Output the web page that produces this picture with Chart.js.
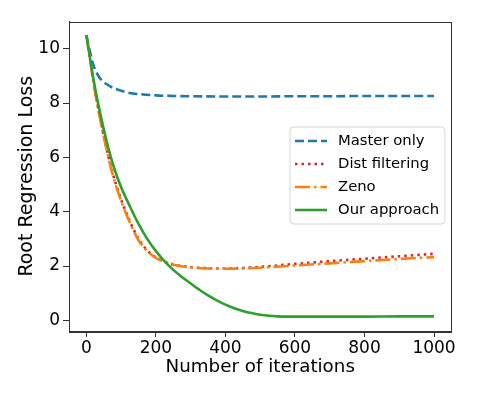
<!DOCTYPE html>
<html>
<head>
<meta charset="utf-8">
<script src="https://cdn.jsdelivr.net/npm/chart.js@4"></script>
<style>
  html, body { margin: 0; padding: 0; background: #fff; }
  #wrap { width: 478px; height: 399px; position: relative; }
</style>
</head>
<body>
<div id="wrap"><canvas id="c" width="478" height="399"></canvas></div>
<script>
// ---- data ----
const seriesLabels = ["Master only", "Dist filtering", "Zeno", "Our approach"];

const masterX = [0, 10, 20, 30, 40, 60, 80, 100, 125, 150, 200, 250, 300, 400, 500, 600, 700, 800, 900, 1000];
const masterY = [10.5, 9.9, 9.4, 9.1, 8.9, 8.68, 8.54, 8.45, 8.37, 8.33, 8.28, 8.26, 8.25, 8.24, 8.24, 8.25, 8.25, 8.26, 8.26, 8.26];

const distX = [0, 25, 50, 75, 100, 125, 150, 175, 200, 225, 250, 300, 350, 400, 450, 500, 600, 700, 800, 900, 1000];
const distY = [10.5, 8.45, 6.8, 5.45, 4.45, 3.65, 3.0, 2.58, 2.32, 2.16, 2.06, 1.96, 1.92, 1.91, 1.93, 1.97, 2.08, 2.18, 2.27, 2.36, 2.45];

const zenoX = [0, 25, 50, 75, 100, 125, 150, 175, 200, 225, 250, 300, 350, 400, 450, 500, 600, 700, 800, 900, 1000];
const zenoY = [10.5, 8.4, 6.75, 5.4, 4.4, 3.6, 2.95, 2.55, 2.3, 2.15, 2.05, 1.95, 1.91, 1.9, 1.91, 1.94, 2.02, 2.1, 2.18, 2.26, 2.33];

const oursX = [0, 20, 40, 60, 80, 100, 125, 150, 175, 200, 225, 250, 275, 300, 325, 350, 375, 400, 425, 450, 475, 500, 525, 550, 575, 600, 700, 800, 900, 1000];
const oursY = [10.5, 8.9, 7.6, 6.5, 5.6, 4.9, 4.2, 3.55, 3.0, 2.55, 2.17, 1.86, 1.6, 1.36, 1.13, 0.92, 0.74, 0.58, 0.45, 0.35, 0.27, 0.21, 0.17, 0.15, 0.14, 0.14, 0.14, 0.14, 0.15, 0.15];

const xTicks = [0, 200, 400, 600, 800, 1000];
const yTicks = [0, 2, 4, 6, 8, 10];

// ---- chart ----
const FONT = "'DejaVu Sans', sans-serif";
const AXIS_COLOR = "#333";
const pts = (xs, ys) => xs.map((x, i) => ({ x: x, y: ys[i] }));

const styles = [
  { color: "#1f77b4", dash: [9, 4], cap: "butt" },
  { color: "#d62728", dash: [2.5, 4], cap: "butt" },
  { color: "#ff7f0e", dash: [15, 4, 2.5, 4], cap: "butt" },
  { color: "#2ca02c", dash: [], cap: "butt" }
];
const seriesData = [pts(masterX, masterY), pts(distX, distY), pts(zenoX, zenoY), pts(oursX, oursY)];

const datasets = seriesLabels.map((lab, i) => ({
  label: lab,
  data: seriesData[i],
  borderColor: styles[i].color,
  backgroundColor: styles[i].color,
  borderDash: styles[i].dash,
  borderCapStyle: styles[i].cap,
  borderWidth: 2.6,
  pointRadius: 0,
  pointHoverRadius: 0,
  fill: false,
  cubicInterpolationMode: "monotone",
  order: 3 - i
}));

const frameAndLegend = {
  id: "frameAndLegend",
  afterDatasetsDraw(chart) {
    const ctx = chart.ctx;
    const a = chart.chartArea;
    ctx.save();
    ctx.strokeStyle = AXIS_COLOR;
    ctx.lineWidth = 1;
    ctx.strokeRect(Math.round(a.left) + 0.5, Math.round(a.top) + 0.5,
                   Math.round(a.right - a.left), Math.round(a.bottom - a.top));
    // legend box
    const bx = 290, by = 127, bw = 155, bh = 97, r = 4;
    ctx.beginPath();
    ctx.moveTo(bx + r, by);
    ctx.arcTo(bx + bw, by, bx + bw, by + bh, r);
    ctx.arcTo(bx + bw, by + bh, bx, by + bh, r);
    ctx.arcTo(bx, by + bh, bx, by, r);
    ctx.arcTo(bx, by, bx + bw, by, r);
    ctx.closePath();
    ctx.fillStyle = "rgba(255,255,255,0.8)";
    ctx.fill();
    ctx.strokeStyle = "#d6d6d6";
    ctx.stroke();
    ctx.font = "14.8px " + FONT;
    ctx.textBaseline = "middle";
    ctx.textAlign = "left";
    chart.data.datasets.forEach((ds, i) => {
      const yy = 141 + i * 23;
      ctx.beginPath();
      ctx.setLineDash(ds.borderDash || []);
      ctx.lineCap = ds.borderCapStyle || "butt";
      ctx.lineWidth = ds.borderWidth;
      ctx.strokeStyle = ds.borderColor;
      ctx.moveTo(295, yy);
      ctx.lineTo(327, yy);
      ctx.stroke();
      ctx.setLineDash([]);
      ctx.fillStyle = "#000";
      ctx.fillText(ds.label, 338, yy);
    });
    ctx.restore();
  }
};

new Chart(document.getElementById("c"), {
  type: "line",
  data: { datasets: datasets },
  options: {
    responsive: false,
    animation: false,
    events: [],
    layout: { padding: { left: 0, top: 21.5, right: 26.6, bottom: 0 } },
    plugins: { legend: { display: false }, tooltip: { enabled: false } },
    scales: {
      x: {
        type: "linear",
        min: -50, max: 1050,
        afterBuildTicks: (s) => { s.ticks = xTicks.map(v => ({ value: v })); },
        afterFit: (s) => { s.height = 68; },
        ticks: { color: "#000", font: { family: FONT, size: 17 }, padding: 1, maxRotation: 0, autoSkip: false,
                 callback: (v) => String(v) },
        grid: { display: true, drawOnChartArea: false, drawTicks: true, tickLength: 6, color: AXIS_COLOR, tickColor: AXIS_COLOR },
        border: { display: true, color: AXIS_COLOR },
        title: { display: true, text: "Number of iterations", color: "#000", font: { family: FONT, size: 18.3 }, padding: { top: 21, bottom: 21 } }
      },
      y: {
        type: "linear",
        min: -0.39, max: 11.0,
        afterBuildTicks: (s) => { s.ticks = yTicks.map(v => ({ value: v })); },
        afterFit: (s) => { s.width = 69; },
        ticks: { color: "#000", font: { family: FONT, size: 17 }, padding: 3, autoSkip: false,
                 callback: (v) => String(v) },
        grid: { display: true, drawOnChartArea: false, drawTicks: true, tickLength: 6, color: AXIS_COLOR, tickColor: AXIS_COLOR },
        border: { display: true, color: AXIS_COLOR },
        title: { display: true, text: "Root Regression Loss", color: "#000", font: { family: FONT, size: 19 }, padding: { top: 16, bottom: 16 } }
      }
    }
  },
  plugins: [frameAndLegend]
});
</script>
</body>
</html>
